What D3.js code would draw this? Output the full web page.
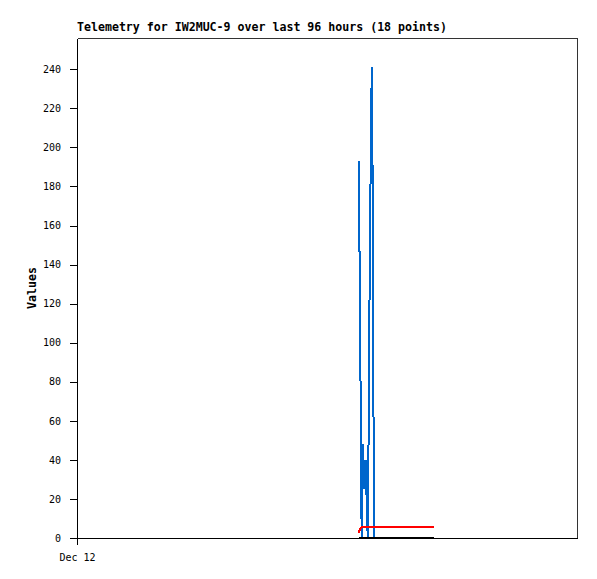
<!DOCTYPE html>
<html>
<head>
<meta charset="utf-8">
<script src="https://cdn.jsdelivr.net/npm/d3@7"></script>
<style>
  body { margin: 0; background: #fff; }
  text { font-family: "DejaVu Sans Mono", "Liberation Mono", monospace; }
</style>
</head>
<body>
<div class="chart"></div>
<script>
// Data
var times = [
    "2023-12-14T06:05", "2023-12-14T06:12", "2023-12-14T06:24", "2023-12-14T06:32",
    "2023-12-14T06:40", "2023-12-14T06:52", "2023-12-14T07:06", "2023-12-14T07:24",
    "2023-12-14T07:49", "2023-12-14T07:56", "2023-12-14T08:04", "2023-12-14T08:15",
    "2023-12-14T08:27", "2023-12-14T08:36", "2023-12-14T08:46", "2023-12-14T08:56",
    "2023-12-14T09:04", "2023-12-14T20:33"
];
var blueValues = [193, 160, 97, 32, 0, 48, 25, 40, 0, 30, 90, 150, 210, 241, 180, 60, 0, 0];
var redValues = [2.7, 3.6, 4.6, 5.3, 5.6, 5.7, 5.7, 5.7, 5.7, 5.7, 5.7, 5.7, 5.7, 5.7, 5.7, 5.7, 5.7, 5.7];
var blackValues = [0, 0, 0, 0, 0, 0, 0, 0, 0, 0, 0, 0, 0, 0, 0, 0, 0, 0];
var yTicks = [0, 20, 40, 60, 80, 100, 120, 140, 160, 180, 200, 220, 240];
var xStart = "2023-12-12T00:00", xEnd = "2023-12-16T00:00";
var xTickLabels = ["2023-12-12T00:00"];

var margin = {top: 38, right: 20, bottom: 41, left: 77},
    width = 597 - margin.left - margin.right,
    height = 579 - margin.top - margin.bottom;

var parse = d3.timeParse("%Y-%m-%dT%H:%M");

var svg = d3.select(".chart").append("svg")
    .attr("width", 597)
    .attr("height", 579);

var g = svg.append("g")
    .attr("transform", "translate(" + margin.left + "," + margin.top + ")");

// Scales
var xScale = d3.scaleTime()
    .domain([parse(xStart), parse(xEnd)])
    .range([0, width]);
var yScale = d3.scaleLinear()
    .domain([0, 256])
    .range([height, 0]);

// Frame (top and right)
g.append("path")
    .attr("d", "M0.5,0.5H" + (width + 0.5) + "V" + height)
    .style("fill", "none")
    .style("stroke", "#333")
    .style("stroke-width", 1)
    .style("shape-rendering", "crispEdges");

// Axes
var yaxis = d3.axisLeft(yScale)
    .tickValues(yTicks)
    .tickSize(7)
    .tickPadding(9)
    .tickSizeOuter(0);
var xaxis = d3.axisBottom(xScale)
    .tickValues(xTickLabels.map(parse))
    .tickFormat(d3.timeFormat("%b %d"))
    .tickSize(7)
    .tickPadding(9)
    .tickSizeOuter(0);

var gy = g.append("g").attr("class", "axis").call(yaxis);
var gx = g.append("g").attr("class", "axis")
    .attr("transform", "translate(0," + height + ")")
    .call(xaxis);

[gx, gy].forEach(function(a) {
    a.select(".domain").style("stroke", "#000").style("shape-rendering", "crispEdges");
    a.selectAll(".tick line").style("stroke", "#000").style("shape-rendering", "crispEdges");
    a.selectAll("text")
        .style("font-size", "10px")
        .style("fill", "#000");
});

// Titles
g.append("text")
    .attr("x", 0)
    .attr("y", -7)
    .style("font-size", "11.6px")
    .style("font-weight", "bold")
    .text("Telemetry for IW2MUC-9 over last 96 hours (18 points)");

g.append("text")
    .attr("transform", "translate(" + (-41) + "," + (height / 2) + ") rotate(-90)")
    .attr("text-anchor", "middle")
    .style("font-size", "11.6px")
    .style("font-weight", "bold")
    .text("Values");

// Lines
var series = [
    {values: blueValues, color: "#0066cc"},
    {values: redValues, color: "#ff0000"},
    {values: blackValues, color: "#000000"}
];

var line = d3.line()
    .x(function(d) { return xScale(d.t); })
    .y(function(d) { return yScale(d.v); });

series.forEach(function(s) {
    var pts = times.map(function(t, i) { return {t: parse(t), v: s.values[i]}; });
    g.append("path")
        .datum(pts)
        .style("fill", "none")
        .style("stroke", s.color)
        .style("stroke-width", 2)
        .style("shape-rendering", "crispEdges")
        .attr("d", line);
});
</script>
</body>
</html>
